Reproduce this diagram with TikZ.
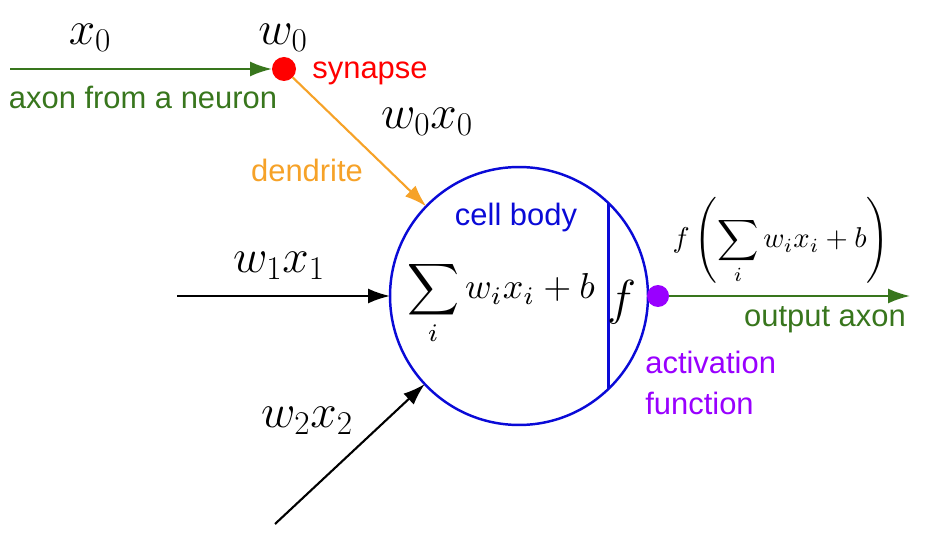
\RequirePackage{fix-cm}
\documentclass[tikz,border=0pt]{standalone}
\usepackage{graphicx}
\usepackage{fontspec}
\setsansfont{Liberation Sans}
\usetikzlibrary{arrows.meta}
\definecolor{axongreen}{RGB}{56,118,29}
\definecolor{dendorange}{RGB}{246,162,40}
\definecolor{synred}{RGB}{255,0,0}
\definecolor{bodyblue}{RGB}{10,10,215}
\definecolor{actpurple}{RGB}{153,0,255}
\begin{document}
\begin{tikzpicture}
		[x=0.02cm,y=-0.02cm,
		mathlbl/.style={font=\fontsize{27}{31}\selectfont,inner sep=0pt},
		txtlbl/.style={font=\fontsize{17.6}{21}\selectfont\sffamily,inner sep=0pt},
		dot/.style={circle,inner sep=0pt,outer sep=0pt},
		wire/.style={line width=1.2pt,-{Latex[length=4.4mm,width=3mm]}}]
		\useasboundingbox (0,0) rectangle (942,536);
		% cell body and synapse
		\node[circle,draw=bodyblue,line width=1.4pt,minimum size=5.16cm,inner sep=0pt,outer sep=0pt,name=body] at (519,296) {};
		\draw[bodyblue,line width=1.4pt] (body.46.4) -- (body.-46.4);
		\node[dot,fill=synred,minimum size=0.48cm,name=syn] at (284,69) {};
		\node[dot,fill=actpurple,minimum size=0.44cm,name=act] at (658,296) {};
		% free ends
		\coordinate (in0) at (10,69);
		\coordinate (in1) at (177,296);
		\coordinate (in2) at (275,524);
		\coordinate (out) at (910,296);
		% connectors
		\draw[wire,axongreen] (in0) -- (syn);
		\draw[wire,dendorange] (syn) -- (body);
		\draw[wire,black] (in1) -- (body);
		\draw[wire,black] (in2) -- (body);
		\draw[wire,axongreen] (act) -- (out);
		% labels
		\node[mathlbl,name=x0] at (90,38) {$x_0$};
		\node[mathlbl,name=w0] at (283,38) {$w_0$};
		\node[mathlbl,name=w0x0] at (427,122) {$w_0x_0$};
		\node[mathlbl,name=w1x1] at (279,266) {$w_1x_1$};
		\node[mathlbl,name=w2x2] at (307,421) {$w_2x_2$};
		\node[txtlbl,text=synred,name=synlbl] at (370,73) {synapse};
		\node[txtlbl,text=axongreen,name=axonlbl] at (143,97) {axon from a neuron};
		\node[txtlbl,text=dendorange,name=dendlbl] at (307,170) {dendrite};
		\node[txtlbl,text=bodyblue,name=bodylbl] at (516,218) {cell body};
		\node[txtlbl,text=axongreen,name=outlbl] at (825,320) {output axon};
		\node[txtlbl,text=actpurple,align=left,anchor=west,name=actlbl] at (645,383) {activation\\[2pt]function};
		\node[inner sep=0pt,name=sum] at (501,303) {\scalebox{2.05}{$\displaystyle\sum_i w_ix_i+b$}};
		\node[mathlbl,font=\fontsize{28}{32}\selectfont,name=f] at (622,302) {$f$};
		\node[inner sep=0pt,name=fout] at (781,241) {\scalebox{1.63}{$f\left(\displaystyle\sum_i w_ix_i+b\right)$}};
	\end{tikzpicture}
\end{document}
